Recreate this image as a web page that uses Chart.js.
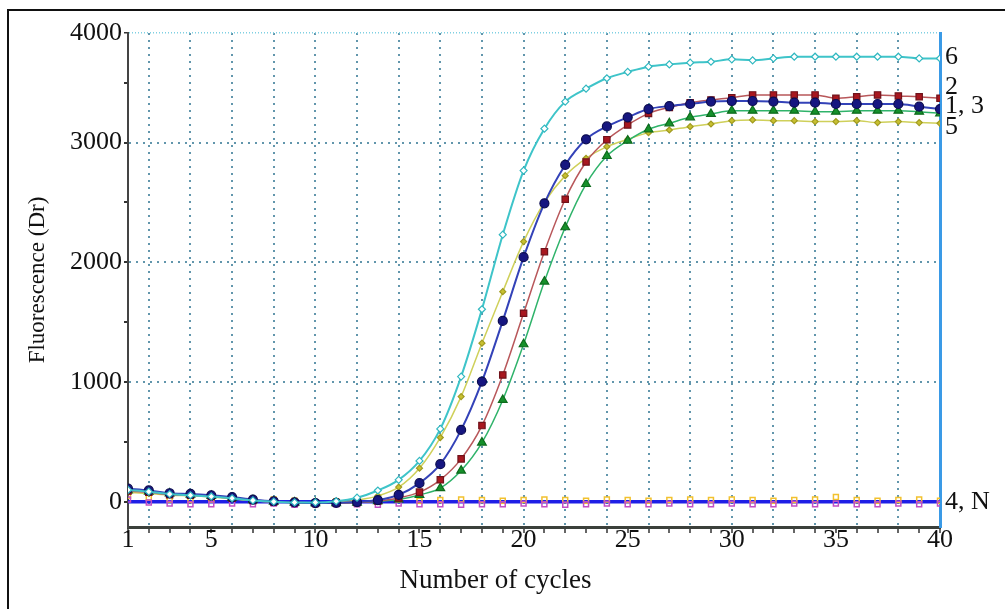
<!DOCTYPE html>
<html>
<head>
<meta charset="utf-8">
<title>Amplification curves</title>
<script src="https://cdn.jsdelivr.net/npm/chart.js@4.4.1/dist/chart.umd.min.js"></script>
<style>
  html, body { margin: 0; background: #fff; overflow: hidden; }
  #wrap { position: relative; width: 1005px; height: 609px; overflow: hidden; }
  #frame { position: absolute; left: 7px; top: 9px; width: 1040px; height: 640px;
           border-left: 2px solid #111; border-top: 2px solid #111; pointer-events: none; }
</style>
</head>
<body>
<div id="wrap">
  <canvas id="pcr" width="1005" height="609"></canvas>
  <div id="frame"></div>
</div>
<script>
var cycles = [1, 2, 3, 4, 5, 6, 7, 8, 9, 10, 11, 12, 13, 14, 15, 16, 17, 18, 19, 20,
              21, 22, 23, 24, 25, 26, 27, 28, 29, 30, 31, 32, 33, 34, 35, 36, 37, 38, 39, 40];

// fluorescence (Dr) per cycle
var sample6 = [100, 85, 65, 55, 45, 30, 12, 2, -5, -5, 5, 35, 95, 184, 342, 609, 1046, 1608, 2231, 2766,
               3116, 3342, 3450, 3537, 3590, 3634, 3653, 3667, 3675, 3695, 3687, 3703, 3717, 3717, 3717, 3717, 3717, 3717, 3703, 3703];
var sample1 = [110, 95, 72, 66, 55, 40, 18, 5, -5, -10, -8, -2, 15, 58, 156, 315, 601, 1004, 1511, 2043,
               2493, 2813, 3027, 3135, 3211, 3280, 3305, 3322, 3342, 3347, 3347, 3342, 3333, 3333, 3322, 3322, 3322, 3322, 3300, 3280];
var sample2 = [90, 80, 60, 55, 45, 30, 12, 0, -8, -12, -10, -6, 8, 33, 81, 184, 359, 637, 1060, 1575,
               2089, 2527, 2838, 3024, 3147, 3244, 3294, 3333, 3356, 3375, 3398, 3398, 3398, 3398, 3370, 3383, 3398, 3389, 3383, 3370];
var sample3 = [95, 85, 70, 60, 50, 32, 14, 2, -6, -10, -10, -6, 5, 20, 58, 114, 261, 495, 851, 1316,
               1839, 2293, 2654, 2888, 3016, 3111, 3161, 3211, 3239, 3266, 3266, 3266, 3266, 3258, 3258, 3266, 3266, 3266, 3258, 3244];
var sample5 = [80, 70, 55, 50, 40, 25, 10, 0, -5, -8, -5, 15, 50, 123, 281, 537, 879, 1325, 1755, 2173,
               2500, 2724, 2869, 2966, 3027, 3083, 3105, 3133, 3155, 3183, 3189, 3183, 3183, 3175, 3175, 3183, 3167, 3175, 3167, 3161];
var sample4 = [20, -5, -15, -20, -20, -15, -20, -15, -25, -20, -20, -20, -25, -15, -20, -20, -25, -20, -20, -15,
               -20, -25, -20, -15, -20, -20, -15, -20, -20, -15, -20, -20, -15, -20, -15, -20, -20, -15, -20, -15];
var sampleN = [50, 35, 20, 15, 20, 25, 20, 20, 10, -20, 5, 10, 15, 20, 10, 15, 20, 15, 10, 15,
               20, 15, 10, 20, 15, 10, 15, 20, 15, 20, 15, 10, 15, 20, 40, 15, 10, 15, 20, 10];
var baselineLevel = 0;

var xLabelCycles = [1, 5, 10, 15, 20, 25, 30, 35, 40];
var yMajorTicks = [0, 1000, 2000, 3000];
var yMinorTicks = [500, 1500, 2500, 3500];
var yAxisMin = -210;
var yAxisMax = 3915;   // top of the frame, marked "4000" in the original
var yTopLabel = '4000';

var curveLabels = ['6', '2', '1, 3', '5', '4, N'];
var curveLabelLevels = [3715, 3465, 3300, 3125, 0];

var serif = "'Liberation Serif', 'Times New Roman', serif";
Chart.defaults.font.family = serif;
Chart.defaults.color = '#111';

function toPoints(values) {
    return values.map(function (v, i) { return {x: cycles[i], y: v}; });
}

function curve(label, values, line, fill, border, style, radius, width) {
    return {
        label: label,
        data: toPoints(values),
        borderColor: line,
        borderWidth: width,
        backgroundColor: fill,
        pointBackgroundColor: fill,
        pointBorderColor: border,
        pointBorderWidth: 1.2,
        pointStyle: style,
        pointRadius: radius,
        cubicInterpolationMode: 'monotone'
    };
}

var dotted = 'rgba(70, 132, 158, 0.85)';

var curveNames = {
    id: 'curveNames',
    afterDraw: function (chart) {
        var ctx = chart.ctx;
        var y = chart.scales.y;
        ctx.save();
        ctx.font = '26px ' + serif;
        ctx.fillStyle = '#111';
        ctx.textAlign = 'left';
        ctx.textBaseline = 'middle';
        curveLabels.forEach(function (t, i) {
            ctx.fillText(t, chart.chartArea.right + 5, y.getPixelForValue(curveLabelLevels[i]));
        });
        ctx.restore();
    }
};

new Chart(document.getElementById('pcr'), {
    type: 'line',
    data: {
        datasets: [
            curve('6', sample6, '#3ec4c9', '#ffffff', '#30b8c0', 'rectRot', 3.5, 2),
            curve('1', sample1, '#3342b8', '#161680', '#0c0c50', 'circle', 4.5, 2),
            curve('2', sample2, '#b8575a', '#a8171f', '#70121a', 'rect', 4.5, 1.5),
            curve('3', sample3, '#2fb36a', '#15902a', '#0d6a1c', 'triangle', 5, 1.5),
            curve('5', sample5, '#cfd05a', '#c8c030', '#a09a20', 'rectRot', 3, 1.5),
            {
                label: '4',
                data: toPoints(sample4),
                showLine: false,
                pointStyle: 'rect',
                pointRadius: 3.5,
                pointBackgroundColor: 'rgba(255,255,255,0)',
                pointBorderColor: '#c44fc4',
                pointBorderWidth: 1.5
            },
            {
                label: 'N',
                data: toPoints(sampleN),
                showLine: false,
                pointStyle: 'rect',
                pointRadius: 3.5,
                pointBackgroundColor: 'rgba(255,255,255,0)',
                pointBorderColor: '#f2c12e',
                pointBorderWidth: 1.5
            },
            {
                label: 'baseline',
                data: [{x: cycles[0], y: baselineLevel}, {x: cycles[cycles.length - 1], y: baselineLevel}],
                borderColor: '#1f1fe6',
                borderWidth: 3.5,
                pointRadius: 0
            }
        ]
    },
    options: {
        responsive: false,
        animation: false,
        devicePixelRatio: 1,
        layout: { padding: { top: 33, right: 14, bottom: 0, left: 0 } },
        plugins: {
            legend: { display: false },
            tooltip: { enabled: false },
            title: {
                display: true,
                position: 'bottom',
                text: 'Number of cycles',
                color: '#111',
                font: { family: serif, size: 27, weight: 'normal' },
                padding: { top: 0, bottom: 11.4 }
            }
        },
        scales: {
            x: {
                type: 'linear',
                min: 1,
                max: 40,
                afterBuildTicks: function (scale) {
                    scale.ticks = cycles.map(function (c) { return {value: c}; });
                },
                afterFit: function (scale) { scale.height = 38.2; },
                ticks: {
                    autoSkip: false,
                    maxRotation: 0,
                    padding: -6,
                    color: '#111',
                    font: { size: 26, lineHeight: 1 },
                    callback: function (v) { return xLabelCycles.indexOf(v) >= 0 ? String(v) : ''; }
                },
                grid: {
                    lineWidth: 2,
                    tickLength: 6,
                    tickWidth: 1.5,
                    tickColor: '#333',
                    color: function (ctx) {
                        var v = ctx.tick && ctx.tick.value;
                        return (v % 2 === 0 && v > 1 && v < 40) ? dotted : 'rgba(0,0,0,0)';
                    }
                },
                border: { color: '#3b403b', width: 3, dash: [2, 5] }
            },
            y: {
                min: yAxisMin,
                max: yAxisMax,
                afterBuildTicks: function (scale) {
                    scale.ticks = yMajorTicks.concat(yMinorTicks, [yAxisMax])
                        .sort(function (a, b) { return a - b; })
                        .map(function (v) { return {value: v}; });
                },
                afterFit: function (scale) { scale.width = 128; },
                ticks: {
                    padding: 2,
                    color: '#111',
                    font: { size: 26, lineHeight: 1 },
                    callback: function (v) {
                        if (v === yAxisMax) return yTopLabel;
                        return yMajorTicks.indexOf(v) >= 0 ? String(v) : '';
                    }
                },
                grid: {
                    lineWidth: function (ctx) { return ctx.tick && ctx.tick.value === yAxisMax ? 1.5 : 2; },
                    tickLength: 4,
                    tickColor: '#333',
                    color: function (ctx) {
                        var v = ctx.tick && ctx.tick.value;
                        if (v === yAxisMax) return '#7fd0e2';
                        return yMajorTicks.indexOf(v) >= 0 ? dotted : 'rgba(0,0,0,0)';
                    }
                },
                border: {
                    color: '#444',
                    width: 2,
                    dash: function (ctx) { return ctx.tick && ctx.tick.value === yAxisMax ? [1, 2] : [2, 5]; }
                },
                title: {
                    display: true,
                    text: 'Fluorescence (Dr)',
                    color: '#111',
                    font: { size: 23, weight: 'normal' },
                    padding: { top: 24, bottom: 0 }
                }
            },
            y2: {
                position: 'right',
                afterFit: function (scale) { scale.width = 51; },
                ticks: { display: false },
                grid: { drawOnChartArea: false, drawTicks: false },
                border: { color: '#3a9ae6', width: 3 }
            }
        }
    },
    plugins: [curveNames]
});
</script>
</body>
</html>
